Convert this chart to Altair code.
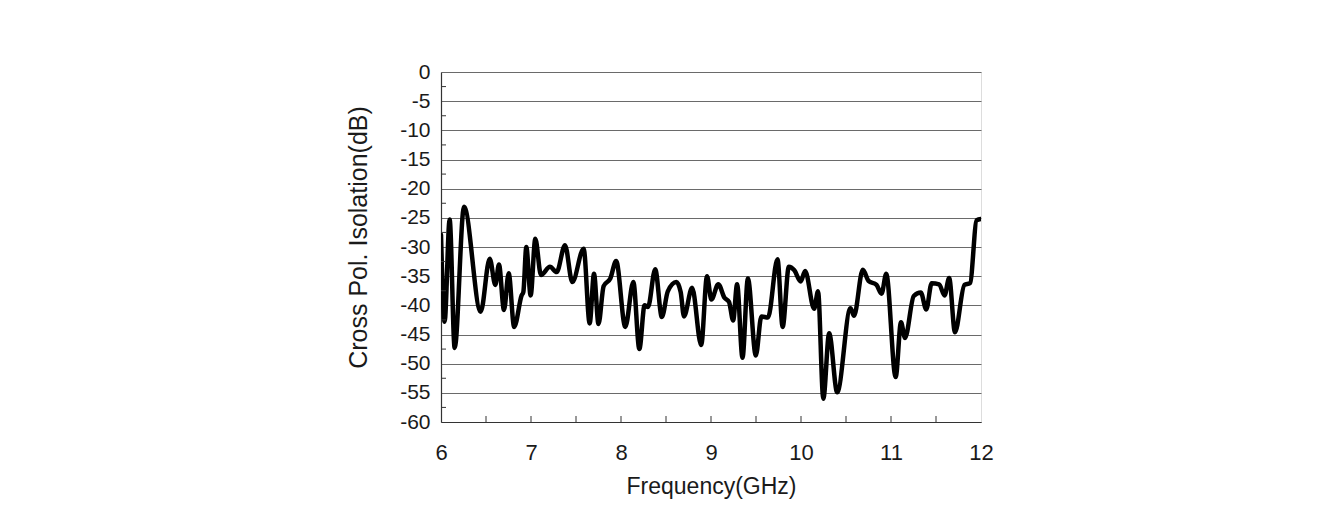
import altair as alt
import pandas as pd

# Frequency (GHz) and cross-pol isolation (dB)
freq = [6.0, 6.04, 6.096, 6.152, 6.256, 6.441, 6.541, 6.604, 6.644, 6.70,
        6.752, 6.813, 6.896, 6.915, 6.948, 6.996, 7.048, 7.111, 7.211, 7.285,
        7.378, 7.459, 7.585, 7.652, 7.70, 7.75, 7.807, 7.881, 7.946, 8.048,
        8.137, 8.204, 8.262, 8.30, 8.38, 8.454, 8.52, 8.615, 8.663, 8.70,
        8.79, 8.891, 8.956, 9.004, 9.081, 9.15, 9.2, 9.246, 9.29, 9.35,
        9.41, 9.498, 9.56, 9.633, 9.739, 9.796, 9.865, 9.926, 9.997, 10.046,
        10.146, 10.189, 10.248, 10.313, 10.402, 10.55, 10.589, 10.687, 10.75, 10.839,
        10.895, 10.947, 11.052, 11.111, 11.156, 11.253, 11.331, 11.392, 11.452, 11.535,
        11.595, 11.646, 11.711, 11.816, 11.878, 11.952, 12.0]
isolation = [-27.9, -42.8, -25.3, -47.3, -23.1, -41.1, -32.0, -36.5, -33.0, -40.8,
             -34.5, -43.7, -38.3, -37.7, -30.0, -38.3, -28.6, -34.8, -33.4, -34.3,
             -29.7, -36.0, -30.3, -43.1, -34.6, -43.2, -36.7, -35.4, -32.4, -43.7,
             -36.0, -47.5, -40.0, -40.3, -33.8, -42.0, -37.6, -36.0, -37.7, -41.9,
             -37.0, -46.8, -35.0, -39.0, -36.4, -38.7, -39.4, -42.6, -36.4, -49.0,
             -35.4, -48.6, -41.9, -42.1, -32.1, -43.7, -33.4, -34.0, -35.9, -34.1,
             -40.6, -37.6, -56.0, -44.8, -54.9, -40.5, -41.8, -33.9, -35.8, -36.5,
             -38.0, -34.6, -52.3, -42.9, -45.6, -38.4, -37.8, -40.7, -36.2, -36.4,
             -38.3, -35.3, -44.6, -36.5, -36.2, -25.4, -25.2]

y_labels = [0, -5, -10, -15, -20, -25, -30, -35, -40, -45, -50, -55, -60]
y_minor = [-2.5, -7.5, -12.5, -17.5, -22.5, -27.5, -32.5, -37.5, -42.5, -47.5, -52.5, -57.5]
x_labels = [6, 7, 8, 9, 10, 11, 12]
x_minor = [6.5, 7, 7.5, 8, 8.5, 9, 9.5, 10, 10.5, 11, 11.5]

FONT = "Liberation Sans"
df = pd.DataFrame({"f": freq, "v": isolation})
ymin = pd.DataFrame({"v": y_minor})
xmin = pd.DataFrame({"f": x_minor})

xscale = alt.Scale(domain=[6, 12], nice=False, zero=False)
yscale = alt.Scale(domain=[-60, 0], nice=False, zero=False)

xaxis = alt.Axis(
    title="Frequency(GHz)", values=x_labels, grid=False, ticks=False,
    labelExpr="'' + datum.value", labelFlush=False, labelOverlap=False,
    labelFontSize=22, labelPadding=20, labelColor="#1a1a1a",
    titleFontSize=23, titleFontWeight="normal", titleColor="#1a1a1a",
    titleY=53, titleBaseline="top",
    domainColor="#333333", domainWidth=1.2)
yaxis = alt.Axis(
    title="Cross Pol. Isolation(dB)", values=y_labels, grid=True,
    gridColor="#6a6a6a", gridWidth=1, ticks=False,
    labelExpr="'' + datum.value", labelFlush=False, labelOverlap=False,
    labelFontSize=21, labelPadding=11, labelColor="#1a1a1a",
    titleFontSize=25, titleFontWeight="normal", titleColor="#1a1a1a",
    titleX=-70, titleY=165, titleBaseline="bottom",
    domainColor="#333333", domainWidth=1.2)

line = alt.Chart(df).mark_line(
    color="black", strokeWidth=4.5, interpolate="monotone",
    strokeCap="round", strokeJoin="round", clip=True
).encode(
    x=alt.X("f:Q", scale=xscale, axis=xaxis),
    y=alt.Y("v:Q", scale=yscale, axis=yaxis),
)

ytick = alt.Chart(ymin).mark_rule(color="#333333", strokeWidth=1).encode(
    y=alt.Y("v:Q", scale=yscale, axis=yaxis),
    x=alt.value(0), x2=alt.value(5),
)
xtick = alt.Chart(xmin).mark_rule(color="#333333", strokeWidth=1).encode(
    x=alt.X("f:Q", scale=xscale, axis=xaxis),
    y=alt.value(350), y2=alt.value(344),
)

chart = alt.layer(line, ytick, xtick).properties(
    width=540, height=350,
    padding={"left": 433, "top": 64, "right": 340, "bottom": 80},
    autosize="none",
).configure_view(
    stroke="#9a9a9a", strokeWidth=1
).configure_axis(
    labelFont=FONT, titleFont=FONT
).configure(background="white")

chart.save("out.html", embed_options={"renderer": "svg", "actions": False})
